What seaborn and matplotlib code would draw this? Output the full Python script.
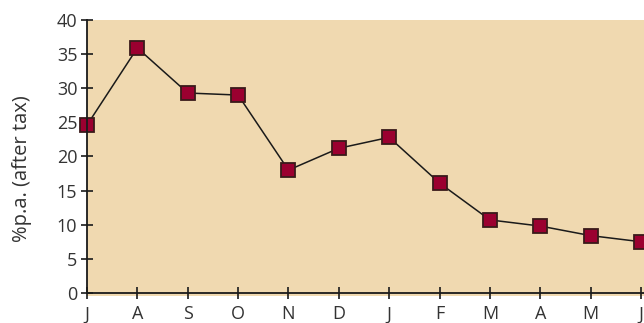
import pandas as pd
import matplotlib.pyplot as plt
import seaborn as sns

months = ["J", "A", "S", "O", "N", "D", "J", "F", "M", "A", "M", "J"]
rate = [24.6, 35.9, 29.3, 29.0, 18.0, 21.2, 22.8, 16.1, 10.7, 9.8, 8.4, 7.5]

df = pd.DataFrame({"pos": range(len(months)), "month": months, "rate": rate})

sns.set_style("ticks")
plt.rcParams["font.family"] = ["Open Sans", "DejaVu Sans"]

fig = plt.figure(figsize=(6.44, 3.23), dpi=100)
ax = fig.add_axes([87 / 644, 1 - 296 / 323, 557 / 644, 276 / 323])
ax.set_facecolor("#F0D9B0")

sns.lineplot(data=df, x="pos", y="rate", ax=ax, color="#1a1a1a", lw=1.1,
             marker="s", markersize=10, markerfacecolor="#9B0030",
             markeredgecolor="#3a1a1a", markeredgewidth=1.3, clip_on=False)

ax.set_xlim(0, 11 * 557 / 554)
ax.set_ylim(-0.45, 40)
ax.spines["bottom"].set_position(("data", 0))
ax.spines["top"].set_visible(False)
ax.spines["right"].set_visible(False)
for s in ("left", "bottom"):
    ax.spines[s].set_linewidth(1.3)
    ax.spines[s].set_color("#1a1a1a")
ax.spines["left"].set_bounds(0, 40)

ax.set_yticks(range(0, 41, 5))
ax.set_xticks(range(len(months)))
ax.set_xticklabels(months)
ax.tick_params(direction="inout", length=8, width=1.2, color="#1a1a1a",
               labelsize=13, labelcolor="#333333")
ax.tick_params(axis="x", pad=5)
ax.tick_params(axis="y", pad=3)
ax.set_xlabel("")
ax.set_ylabel("%p.a. (after tax)", fontsize=14.5, color="#333333")
ax.yaxis.set_label_coords(-0.098, 0.46)

plt.savefig("out.png", dpi=100)
